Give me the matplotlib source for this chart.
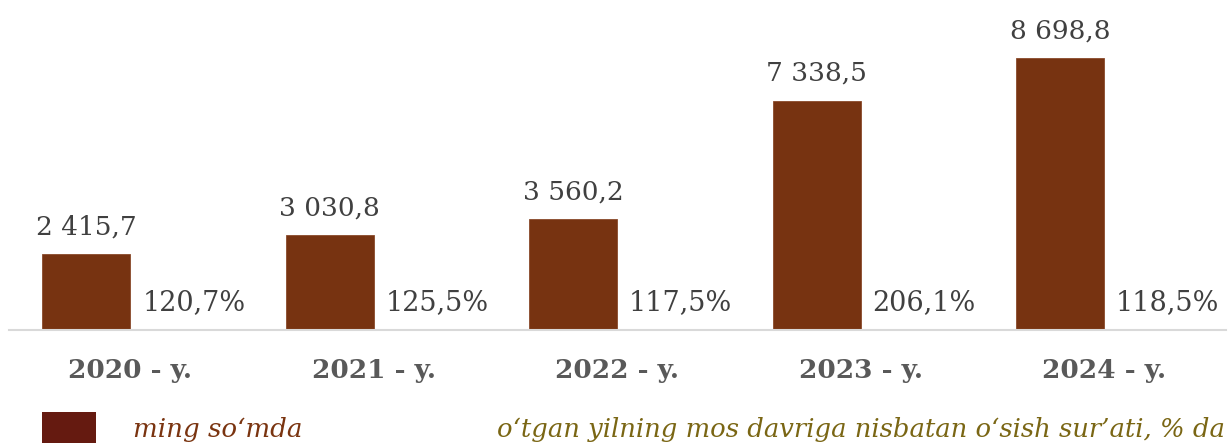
import matplotlib
matplotlib.use("Agg")
import matplotlib.pyplot as plt
from matplotlib.patches import Rectangle
import numpy as np

categories = ["2020 - y.", "2021 - y.", "2022 - y.", "2023 - y.", "2024 - y."]
values = [2415.7, 3030.8, 3560.2, 7338.5, 8698.8]
value_labels = ["2 415,7", "3 030,8", "3 560,2", "7 338,5", "8 698,8"]
growth = [120.7, 125.5, 117.5, 206.1, 118.5]
growth_labels = ["120,7%", "125,5%", "117,5%", "206,1%", "118,5%"]
legend_labels = ["ming so\u2018mda", "o\u2018tgan yilning mos davriga nisbatan o\u2018sish sur\u2019ati, % da"]

SERIF = ["DejaVu Serif", "Liberation Serif"]
BROWN = "#773311"
GREEN = "#d6e4c9"

W, H = 1228, 443
fig = plt.figure(figsize=(W / 100, H / 100), dpi=100)
ax_left, ax_right, ax_bottom = 8.5, 1226, 330
ax = fig.add_axes([ax_left / W, (H - ax_bottom) / H, (ax_right - ax_left) / W, ax_bottom / H])

x = np.arange(len(categories))
bw = 0.36
off = 0.181
ax.bar(x - off, values, width=bw, color=BROWN, edgecolor="#8a4a2a", linewidth=0.6)
ax.bar(x + off, [g / 100 for g in growth], width=bw, color=GREEN, edgecolor=GREEN, linewidth=1.2)

ax.set_xlim(-0.5, len(categories) - 0.5)
ymax = values[-1] * 330 / 272
ax.set_ylim(0, ymax)

for xi, v, lab in zip(x, values, value_labels):
    ax.annotate(lab, (xi - off, v), xytext=(0, 19.5), textcoords="offset points",
                ha="center", va="center", fontsize=19, color="#404040", family=SERIF)
for xi, g, lab in zip(x, growth, growth_labels):
    ax.annotate(lab, (xi + off, g / 100), xytext=(14, 20), textcoords="offset points",
                ha="center", va="center", fontsize=19.5, color="#404040", family=SERIF)

for s in ["top", "right", "left"]:
    ax.spines[s].set_visible(False)
ax.spines["bottom"].set_color("#d9d9d9")
ax.spines["bottom"].set_linewidth(1.5)
ax.set_yticks([])
ax.set_xticks(x)
ax.set_xticklabels(categories, fontsize=19, fontweight="bold", color="#595959", family=SERIF)
ax.tick_params(axis="x", length=0, pad=20)

# legend (manual)
fig.patches.append(Rectangle((42 / W, (H - 443) / H), 54 / W, 31 / H, transform=fig.transFigure,
                             facecolor="#651a10", edgecolor="none"))
fig.text(133 / W, (H - 430) / H, legend_labels[0], fontsize=18.8, style="italic",
         color="#7a3410", family=SERIF, va="center", ha="left")
fig.text(1225 / W, (H - 430) / H, legend_labels[1], fontsize=18.6, style="italic",
         color="#7a6614", family=SERIF, va="center", ha="right")

fig.savefig("out.png", dpi=100)
